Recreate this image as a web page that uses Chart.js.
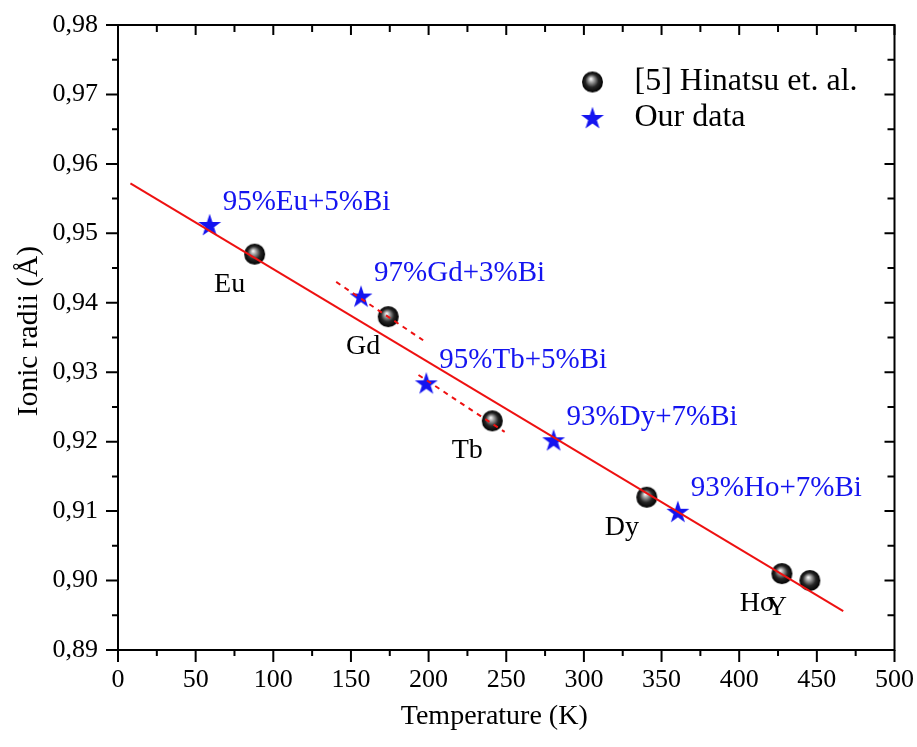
<!DOCTYPE html>
<html><head><meta charset="utf-8">
<script src="https://cdn.jsdelivr.net/npm/chart.js@4/dist/chart.umd.min.js"></script>
<style>html,body{margin:0;padding:0;background:#fff}#wrap{width:917px;height:747px;position:relative}</style>
</head><body><div id="wrap"><canvas id="c"></canvas></div>
<script>
// ---- data ----
const elements = ['Eu', 'Gd', 'Tb', 'Dy', 'Ho', 'Y'];
const hinatsuT = [88, 174, 241, 340.5, 427.5, 445.5];
const hinatsuR = [0.947, 0.938, 0.923, 0.912, 0.901, 0.900];
const ourLabels = ['95%Eu+5%Bi', '97%Gd+3%Bi', '95%Tb+5%Bi', '93%Dy+7%Bi', '93%Ho+7%Bi'];
const ourT = [59, 156.5, 198.5, 280.5, 360.5];
const ourR = [0.9512, 0.9409, 0.9284, 0.9202, 0.9099];
const fitT = [8, 467];
const fitR = [0.9572, 0.8956];
const gdDashT = [140.5, 196.5];
const gdDashR = [0.9430, 0.9346];
const tbDashT = [193.5, 249];
const tbDashR = [0.9296, 0.9214];
const xMin = 0, xMax = 500, xMajor = 50, xMinor = 25;
const yMin = 0.89, yMax = 0.98, yMajor = 0.01, yMinor = 0.005;
const legendNames = ['[5] Hinatsu et. al.', 'Our data'];
const xTitle = 'Temperature (K)';
const yTitle = 'Ionic radii (Å)';

const SERIF = '"Liberation Serif", "Times New Roman", serif';
const BLUE = '#1414f0';

function pts(xs, ys) { return xs.map((x, i) => ({x: x, y: ys[i]})); }

// sphere marker
function makeSphere(r) {
  const c = document.createElement('canvas');
  const s = Math.ceil(r * 2 + 2);
  c.width = s; c.height = s;
  const g = c.getContext('2d');
  const cx = s / 2, cy = s / 2;
  const grad = g.createRadialGradient(cx - r * 0.15, cy - r * 0.3, 0.5, cx, cy, r);
  grad.addColorStop(0, '#f4f4f4');
  grad.addColorStop(0.25, '#9a9a9a');
  grad.addColorStop(0.6, '#262626');
  grad.addColorStop(1, '#000');
  g.fillStyle = grad;
  g.beginPath(); g.arc(cx, cy, r, 0, Math.PI * 2); g.fill();
  return c;
}
function makeStar(ro, ri, color) {
  const c = document.createElement('canvas');
  const s = Math.ceil(ro * 2 + 2);
  c.width = s; c.height = s;
  const g = c.getContext('2d');
  const cx = s / 2, cy = s / 2 + 0.8;
  g.fillStyle = color;
  g.beginPath();
  for (let i = 0; i < 10; i++) {
    const a = -Math.PI / 2 + i * Math.PI / 5;
    const r = i % 2 === 0 ? ro : ri;
    const px = cx + r * Math.cos(a), py = cy + r * Math.sin(a);
    if (i === 0) g.moveTo(px, py); else g.lineTo(px, py);
  }
  g.closePath(); g.fill();
  return c;
}
const sphere = makeSphere(10.5);
const star = makeStar(12, 4.6, BLUE);

const isMajorX = v => Math.round(v) % xMajor === 0;
const isMajorY = v => Math.round(v / yMinor) % 2 === 0;

const decor = {
  id: 'decor',
  afterDatasetsDraw(chart) {
    const ctx = chart.ctx;
    const xs = chart.scales.x, ys = chart.scales.y;
    const a = chart.chartArea;
    ctx.save();
    // frame
    ctx.strokeStyle = '#000';
    ctx.lineWidth = 2;
    ctx.strokeRect(a.left, a.top, a.right - a.left, a.bottom - a.top);
    // ticks
    ctx.beginPath();
    xs.ticks.forEach(t => {
      const px = xs.getPixelForValue(t.value);
      const maj = isMajorX(t.value);
      ctx.moveTo(px, a.bottom); ctx.lineTo(px, a.bottom + (maj ? 12 : 6));
      ctx.moveTo(px, a.top); ctx.lineTo(px, a.top + (maj ? 10 : 7));
    });
    ys.ticks.forEach(t => {
      const py = ys.getPixelForValue(t.value);
      const maj = isMajorY(t.value);
      ctx.moveTo(a.left, py); ctx.lineTo(a.left - (maj ? 12 : 6), py);
      ctx.moveTo(a.right, py); ctx.lineTo(a.right - (maj ? 10 : 7), py);
    });
    ctx.stroke();

    // element labels
    ctx.fillStyle = '#000';
    ctx.font = '28px ' + SERIF;
    ctx.textAlign = 'center';
    ctx.textBaseline = 'middle';
    elements.forEach((e, i) => {
      const px = xs.getPixelForValue(hinatsuT[i]);
      const py = ys.getPixelForValue(hinatsuR[i]);
      const dx = e === 'Y' ? -33 : -25;
      const dy = e === 'Y' ? 27 : 30;
      ctx.fillText(e, px + dx, py + dy);
    });
    // our data labels
    ctx.fillStyle = BLUE;
    ctx.font = '29px ' + SERIF;
    ctx.textAlign = 'left';
    ourLabels.forEach((l, i) => {
      const px = xs.getPixelForValue(ourT[i]);
      const py = ys.getPixelForValue(ourR[i]);
      ctx.fillText(l, px + 13, py - 23);
    });

    // legend
    const lx = a.right - 302, ly = a.top + 57;
    ctx.drawImage(sphere, lx - sphere.width / 2, ly - sphere.height / 2);
    ctx.drawImage(star, lx - star.width / 2, ly + 36 - star.height / 2);
    ctx.fillStyle = '#000';
    ctx.font = '32px ' + SERIF;
    ctx.textAlign = 'left';
    ctx.fillText(legendNames[0], lx + 42, ly);
    ctx.fillText(legendNames[1], lx + 42, ly + 36);

    // axis titles
    ctx.font = '28px ' + SERIF;
    ctx.textAlign = 'center';
    ctx.fillText(xTitle, (a.left + a.right) / 2 - 12, 717);
    ctx.save();
    ctx.font = '29.5px ' + SERIF;
    ctx.translate(29, 331);
    ctx.rotate(-Math.PI / 2);
    ctx.fillText(yTitle, 0, 0);
    ctx.restore();
    ctx.restore();
  }
};

new Chart(document.getElementById('c'), {
  type: 'scatter',
  data: {
    datasets: [
      {label: 'fit', data: pts(fitT, fitR), showLine: true, borderColor: '#ee1111', borderWidth: 2, pointRadius: 0, order: 0},
      {label: 'Gd dash', data: pts(gdDashT, gdDashR), showLine: true, borderColor: '#ee1111', borderWidth: 2, borderDash: [5, 5], pointRadius: 0, order: 0},
      {label: 'Tb dash', data: pts(tbDashT, tbDashR), showLine: true, borderColor: '#ee1111', borderWidth: 2, borderDash: [5, 5], pointRadius: 0, order: 0},
      {label: legendNames[0], data: pts(hinatsuT, hinatsuR), pointStyle: sphere, pointRadius: 10, order: 2},
      {label: legendNames[1], data: pts(ourT, ourR), pointStyle: star, pointRadius: 11, order: 1}
    ]
  },
  options: {
    responsive: true,
    maintainAspectRatio: false,
    animation: false,
    layout: {padding: {top: 25, right: 22, left: 0, bottom: 0}},
    plugins: {legend: {display: false}, tooltip: {enabled: false}},
    scales: {
      x: {
        type: 'linear', min: xMin, max: xMax,
        grid: {display: false, drawTicks: true, tickLength: 12},
        border: {display: false},
        ticks: {stepSize: xMinor, autoSkip: false, maxRotation: 0, padding: 3, color: '#000',
          font: {family: SERIF, size: 26},
          callback: v => isMajorX(v) ? String(Math.round(v)) : ''},
        afterFit: s => { s.height = 97; }
      },
      y: {
        type: 'linear', min: yMin, max: yMax,
        grid: {display: false, drawTicks: true, tickLength: 12},
        border: {display: false},
        ticks: {stepSize: yMinor, autoSkip: false, padding: 8, color: '#000',
          font: {family: SERIF, size: 26},
          callback: v => isMajorY(v) ? v.toFixed(2).replace('.', ',') : ''},
        afterFit: s => { s.width = 118; }
      }
    }
  },
  plugins: [decor]
});
</script>
</body></html>
